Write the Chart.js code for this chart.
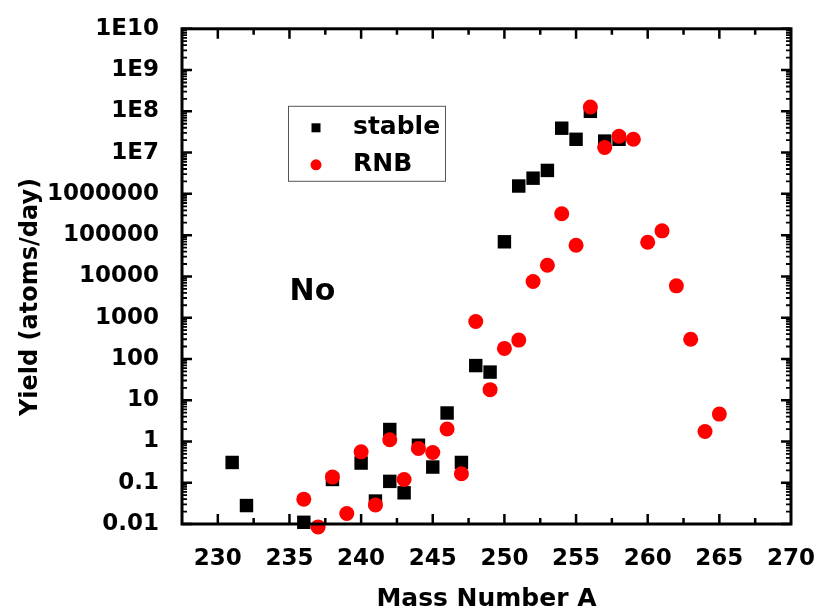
<!DOCTYPE html>
<html>
<head>
<meta charset="utf-8">
<script src="https://cdn.jsdelivr.net/npm/chart.js@4"></script>
<style>
  html, body { margin: 0; padding: 0; background: #fff; }
</style>
</head>
<body>
<canvas id="yieldChart" width="828" height="616"></canvas>
<script>
// mass number A and yield (atoms/day)
const massStable = [231, 232, 236, 238, 240, 241, 242, 242, 243, 244, 245, 246, 247, 248, 249, 250, 251, 252, 253, 254, 255, 256, 257, 258];
const yieldStable = [0.31, 0.028, 0.011, 0.12, 0.30, 0.036, 1.95, 0.108, 0.057, 0.81, 0.24, 4.9, 0.31, 69, 48, 6.9e4, 1.55e6, 2.4e6, 3.7e6, 3.9e7, 2.1e7, 1.0e8, 1.9e7, 2.1e7];

const massRnb = [236, 237, 238, 239, 240, 241, 242, 243, 244, 245, 246, 247, 248, 249, 250, 251, 252, 253, 254, 255, 256, 257, 258, 259, 260, 261, 262, 263, 264, 265];
const yieldRnb = [0.04, 0.0085, 0.137, 0.018, 0.56, 0.029, 1.1, 0.12, 0.68, 0.54, 2.0, 0.165, 810, 18, 180, 286, 7500, 1.86e4, 3.3e5, 5.7e4, 1.27e8, 1.33e7, 2.5e7, 2.1e7, 6.7e4, 1.27e5, 5900, 300, 1.75, 4.6];

const xTicks = [230, 235, 240, 245, 250, 255, 260, 265, 270];
const yTicks = [1e-2, 1e-1, 1, 10, 100, 1e3, 1e4, 1e5, 1e6, 1e7, 1e8, 1e9, 1e10];
const yTickLabels = ['0.01', '0.1', '1', '10', '100', '1000', '10000', '100000', '1000000', '1E7', '1E8', '1E9', '1E10'];

const FONT = "'DejaVu Sans', sans-serif";
Chart.defaults.font.family = FONT;
Chart.defaults.font.weight = 700;
Chart.defaults.color = '#000';

const toPoints = (xs, ys) => xs.map((x, i) => ({ x: x, y: ys[i] }));

// frame with inward ticks on all four sides, inset legend, labels
const framePlugin = {
    id: 'framePlugin',
    afterDraw(chart) {
        const { ctx, chartArea: a, scales: { x, y } } = chart;
        ctx.save();
        ctx.strokeStyle = '#000';
        ctx.lineCap = 'butt';

        // x ticks (major every 5, minor at the half)
        ctx.lineWidth = 2.5;
        ctx.beginPath();
        xTicks.forEach((v, i) => {
            const marks = [[v, 10]];
            if (i < xTicks.length - 1) marks.push([(v + xTicks[i + 1]) / 2, 6]);
            marks.forEach(([val, len]) => {
                const px = x.getPixelForValue(val);
                if (px < a.left + 2 || px > a.right - 2) return;
                ctx.moveTo(px, a.bottom); ctx.lineTo(px, a.bottom - len);
                ctx.moveTo(px, a.top); ctx.lineTo(px, a.top + len);
            });
        });
        ctx.stroke();

        // y ticks (major at decades, minor 2..9)
        ctx.beginPath();
        yTicks.forEach(v => {
            const py = y.getPixelForValue(v);
            ctx.moveTo(a.left, py); ctx.lineTo(a.left + 10, py);
            ctx.moveTo(a.right, py); ctx.lineTo(a.right - 10, py);
        });
        ctx.stroke();
        ctx.lineWidth = 1.8;
        ctx.beginPath();
        yTicks.slice(0, -1).forEach(v => {
            for (let m = 2; m <= 9; m++) {
                const py = y.getPixelForValue(v * m);
                ctx.moveTo(a.left, py); ctx.lineTo(a.left + 5, py);
                ctx.moveTo(a.right, py); ctx.lineTo(a.right - 5, py);
            }
        });
        ctx.stroke();

        // frame
        ctx.lineWidth = 3;
        ctx.strokeRect(a.left, a.top, a.right - a.left, a.bottom - a.top);

        // inset legend
        const bx = a.left + 106, by = a.top + 77;
        ctx.lineWidth = 1;
        ctx.strokeStyle = '#555';
        ctx.strokeRect(bx + 0.5, by + 0.5, 157, 75);
        const ds = chart.data.datasets;
        ctx.fillStyle = ds[0].backgroundColor;
        ctx.fillRect(bx + 28 - 4.5, by + 22 - 4.5, 9, 9);
        ctx.fillStyle = ds[1].backgroundColor;
        ctx.beginPath();
        ctx.arc(bx + 28, by + 59, 5.5, 0, Math.PI * 2);
        ctx.fill();
        ctx.fillStyle = '#000';
        ctx.font = 'bold 25px ' + FONT;
        ctx.textAlign = 'left';
        ctx.textBaseline = 'middle';
        ctx.fillText(ds[0].label, bx + 65, by + 22);
        ctx.fillText(ds[1].label, bx + 65, by + 59);

        // element label
        ctx.font = 'bold 30px ' + FONT;
        ctx.textAlign = 'center';
        ctx.textBaseline = 'alphabetic';
        ctx.fillText('No', x.getPixelForValue(236.6), y.getPixelForValue(2700));

        // y axis title
        ctx.font = 'bold 24px ' + FONT;
        ctx.translate(31, 297);
        ctx.rotate(-Math.PI / 2);
        ctx.textBaseline = 'middle';
        ctx.fillText('Yield (atoms/day)', 0, 0);
        ctx.restore();
    }
};

const chart = new Chart(document.getElementById('yieldChart'), {
    type: 'scatter',
    data: {
        datasets: [
            {
                label: 'stable',
                data: toPoints(massStable, yieldStable),
                pointStyle: 'rect',
                pointRadius: 9.5,
                pointHoverRadius: 9.5,
                backgroundColor: '#000000',
                borderWidth: 0,
                clip: false,
                order: 1
            },
            {
                label: 'RNB',
                data: toPoints(massRnb, yieldRnb),
                pointStyle: 'circle',
                pointRadius: 7.5,
                pointHoverRadius: 7.5,
                backgroundColor: '#ff0000',
                borderWidth: 0,
                clip: false,
                order: 0
            }
        ]
    },
    options: {
        responsive: false,
        animation: false,
        layout: {
            padding: { top: 23, right: 28, bottom: 0, left: 0 }
        },
        plugins: {
            legend: { display: false },
            tooltip: { enabled: false }
        },
        scales: {
            x: {
                type: 'linear',
                min: 227.5,
                max: 270,
                grid: { display: false },
                border: { display: false },
                afterBuildTicks: scale => { scale.ticks = xTicks.map(v => ({ value: v })); },
                afterFit: scale => { scale.height = 92; },
                ticks: {
                    padding: 13,
                    autoSkip: false,
                    maxRotation: 0,
                    font: { family: FONT, size: 23, weight: 700 }
                },
                title: {
                    display: true,
                    text: 'Mass Number A',
                    padding: { top: 0, bottom: 2 },
                    font: { family: FONT, size: 25, weight: 700 }
                }
            },
            y: {
                type: 'logarithmic',
                min: 0.01,
                max: 1e10,
                grid: { display: false },
                border: { display: false },
                afterBuildTicks: scale => { scale.ticks = yTicks.map(v => ({ value: v })); },
                afterFit: scale => { scale.width = 182; },
                ticks: {
                    padding: 15,
                    autoSkip: false,
                    font: { family: FONT, size: 23, weight: 700 },
                    callback: (v, i) => yTickLabels[i]
                }
            }
        }
    },
    plugins: [framePlugin]
});
</script>
</body>
</html>
